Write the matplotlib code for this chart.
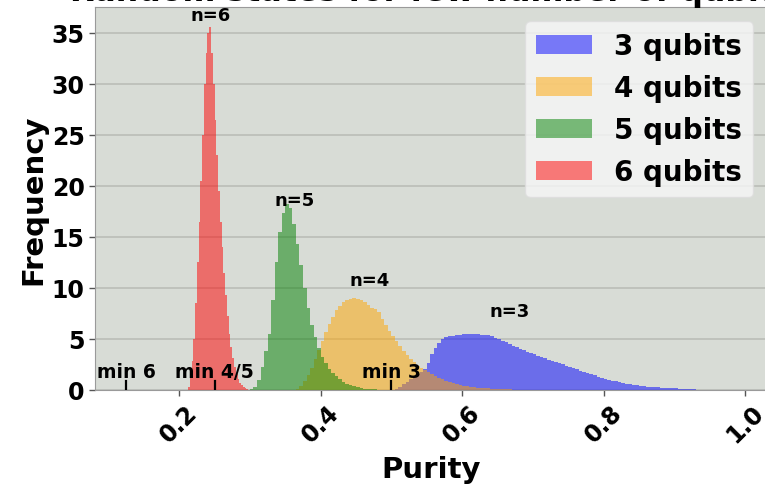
import numpy as np
import matplotlib
matplotlib.use("Agg")
import matplotlib.pyplot as plt

# ---------------- data ----------------
series_labels = ["3 qubits", "4 qubits", "5 qubits", "6 qubits"]
series_colors = ["blue", "orange", "green", "red"]

# 3 qubits: bins of width 0.005 starting at 0.505
q3_start, q3_width = 0.505, 0.005
q3_heights = [0.05, 0.3, 0.55, 0.8, 1.05, 1.3, 1.55, 1.8, 2.05, 2.6,
              3.5, 4.1, 4.6, 4.95, 5.15, 5.25, 5.3, 5.35, 5.4, 5.45,
              5.45, 5.45, 5.45, 5.45, 5.42, 5.4, 5.35, 5.25, 5.12, 4.98,
              4.82, 4.66, 4.5, 4.33, 4.17, 4.02, 3.88, 3.75, 3.65, 3.5,
              3.37, 3.24, 3.1, 2.97, 2.85, 2.73, 2.62, 2.5, 2.38, 2.26,
              2.14, 2.02, 1.9, 1.78, 1.66, 1.54, 1.43, 1.32, 1.21, 1.1,
              1.0, 0.92, 0.84, 0.76, 0.69, 0.62, 0.56, 0.5, 0.45, 0.41,
              0.37, 0.33, 0.3, 0.27, 0.25, 0.23, 0.21, 0.19, 0.17, 0.15,
              0.13, 0.11, 0.09, 0.07, 0.05, 0.04, 0.02]

# 4 qubits: bins of width 0.005 starting at 0.365
q4_start, q4_width = 0.365, 0.005
q4_heights = [0.1, 0.4, 0.9, 1.5, 2.2, 3.0, 3.9, 4.8, 5.7, 6.5,
              7.2, 7.8, 8.25, 8.6, 8.85, 8.95, 9.0, 8.95, 8.8, 8.6,
              8.3, 8.0, 7.9, 7.6, 7.0, 6.4, 5.8, 5.3, 4.8, 4.3,
              3.8, 3.4, 3.0, 2.7, 2.4, 2.15, 1.95, 1.75, 1.55, 1.35,
              1.2, 1.05, 0.92, 0.8, 0.68, 0.58, 0.5, 0.43, 0.37, 0.32,
              0.27, 0.23, 0.2, 0.17, 0.15, 0.13, 0.11, 0.1, 0.08, 0.06,
              0.05, 0.03, 0.02]

# 5 qubits: bins of width 0.005 starting at 0.300
q5_start, q5_width = 0.300, 0.005
q5_heights = [0.05, 0.25, 1.0, 2.3, 3.8, 5.5, 8.8, 12.5, 15.5, 17.3,
              18.2, 17.8, 16.3, 14.3, 12.2, 10.0, 8.0, 6.4, 5.2, 4.1,
              3.2, 2.6, 2.1, 1.7, 1.35, 1.05, 0.8, 0.62, 0.48, 0.36,
              0.27, 0.2, 0.14, 0.1, 0.07, 0.05, 0.03, 0.02]

# 6 qubits: bins of width 0.0025 starting at 0.2125
q6_start, q6_width = 0.2125, 0.0025
q6_heights = [0.3, 1.2, 2.8, 5.0, 8.5, 12.5, 16.5, 20.5, 25.0, 30.0,
              33.0, 35.0, 35.6, 33.0, 30.0, 26.5, 23.0, 19.5, 16.5, 14.0,
              11.5, 9.3, 7.3, 5.5, 4.2, 3.1, 2.3, 1.6, 1.1, 0.7,
              0.45, 0.28, 0.15, 0.08]

# annotations
peak_labels = ["n=6", "n=5", "n=4", "n=3"]
peak_label_x = [0.2445, 0.3630, 0.4690, 0.6665]
peak_label_y = [36.7, 18.6, 10.8, 7.7]

min_labels = ["min 6", "min 4/5", "min 3"]
min_x = [0.125, 0.25, 0.5]
min_marker_height = 0.9
min_label_y = 1.85

x_ticks = [0.2, 0.4, 0.6, 0.8, 1.0]
y_ticks = [0, 5, 10, 15, 20, 25, 30, 35]

# ---------------- figure ----------------
plt.rcParams['font.family'] = ['DejaVu Sans']
plt.rcParams['font.weight'] = 'bold'

fig = plt.figure(figsize=(7.65, 4.89), dpi=100)
ax = fig.add_axes([95 / 765, (489 - 391) / 489, (767 - 95) / 765, (391 - 8.3) / 489])
ax.set_facecolor('#d8dcd6')

series = [
    (q3_start, q3_width, q3_heights),
    (q4_start, q4_width, q4_heights),
    (q5_start, q5_width, q5_heights),
    (q6_start, q6_width, q6_heights),
]
for (start, width, heights), col, lab in zip(series, series_colors, series_labels):
    h = np.asarray(heights, dtype=float)
    edges = start + width * np.arange(len(h) + 1)
    centers = 0.5 * (edges[:-1] + edges[1:])
    ax.hist(centers, bins=edges, weights=h, histtype='stepfilled',
            color=col, alpha=0.5, label=lab, linewidth=0)

for lab, x, y in zip(peak_labels, peak_label_x, peak_label_y):
    ax.text(x, y, lab, ha='center', va='center', fontsize=13, fontweight='bold')

for lab, x in zip(min_labels, min_x):
    ax.plot([x, x], [0, min_marker_height], color='black', lw=1.6, zorder=5)
    ax.text(x, min_label_y, lab, ha='center', va='center', fontsize=13.5,
            fontweight='bold', zorder=6)

ax.set_xlim(0.081, 1.031)
ax.set_ylim(0, 37.5)
ax.set_xticks(x_ticks)
ax.set_xticklabels([f"{t:.1f}" for t in x_ticks], rotation=45, fontsize=17,
                   fontweight='bold')
ax.set_yticks(y_ticks)
ax.set_yticklabels([str(t) for t in y_ticks], fontsize=17, fontweight='bold')
ax.yaxis.grid(True, color='#b8bbb5', linewidth=1.1)
ax.set_axisbelow(True)
ax.tick_params(axis='both', colors='#555555', labelcolor='black', length=4, width=1)
for s in ax.spines.values():
    s.set_color('#9a9a9a')
    s.set_linewidth(0.8)

ax.set_xlabel("Purity", fontsize=21, fontweight='bold', labelpad=6)
ax.set_ylabel("Frequency", fontsize=21, fontweight='bold', labelpad=3)
ax.set_title("Random states for few number of qubits", fontsize=22.75,
             fontweight='bold', pad=3)

leg = ax.legend(loc='upper right', prop={'weight': 'bold', 'size': 20},
                framealpha=0.8, facecolor='#f7f7f7', edgecolor='#dddddd')

fig.savefig("out.png", dpi=100)
